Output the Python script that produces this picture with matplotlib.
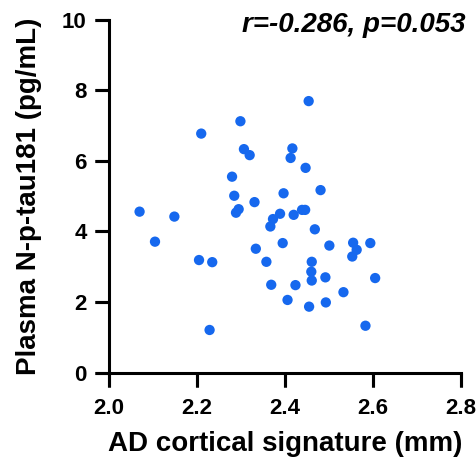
import numpy as np
import matplotlib.pyplot as plt

plt.rcParams['font.family'] = ['Liberation Sans', 'DejaVu Sans']

# AD cortical signature (mm)
thickness = [2.070, 2.149, 2.105, 2.205, 2.235, 2.229, 2.210, 2.299, 2.307, 2.320,
             2.280, 2.285, 2.295, 2.289, 2.331, 2.334, 2.358, 2.367, 2.373, 2.389,
             2.369, 2.395, 2.397, 2.406, 2.413, 2.417, 2.420, 2.424, 2.439, 2.446,
             2.447, 2.454, 2.455, 2.461, 2.460, 2.461, 2.468, 2.481, 2.492, 2.493,
             2.501, 2.533, 2.555, 2.563, 2.553, 2.594, 2.605, 2.583]
# Plasma N-p-tau181 (pg/mL)
ptau = [4.56, 4.42, 3.71, 3.19, 3.13, 1.21, 6.77, 7.12, 6.33, 6.16,
        5.55, 5.01, 4.63, 4.53, 4.83, 3.51, 3.14, 4.14, 4.35, 4.50,
        2.49, 3.67, 5.08, 2.06, 6.08, 6.35, 4.47, 2.48, 4.61, 4.61,
        5.80, 7.69, 1.87, 3.14, 2.86, 2.61, 4.06, 5.17, 2.70, 1.99,
        3.60, 2.28, 3.68, 3.48, 3.29, 3.67, 2.68, 1.33]

xticks = [2.0, 2.2, 2.4, 2.6, 2.8]
xticklabels = ["2.0", "2.2", "2.4", "2.6", "2.8"]
yticks = [0, 2, 4, 6, 8, 10]

W, H = 4.77, 4.69
box = [0.228, 0.2053, 0.7385, 0.7531]
fig = plt.figure(figsize=(W, H), dpi=100)
ax = fig.add_axes(box)

ax.scatter(thickness, ptau, s=55, color="#1668EE", edgecolors="none", zorder=3, clip_on=False)

ax.set_xlim(2.0, 2.8)
ax.set_ylim(0, 10)
ax.set_xticks(xticks, xticklabels)
ax.set_yticks(yticks)

for s in ["top", "right"]:
    ax.spines[s].set_visible(False)
for s in ["left", "bottom"]:
    ax.spines[s].set_linewidth(2.2)
    ax.spines[s].set_color("black")

ax.tick_params(direction="out", width=2.2, length=10, labelsize=16, color="black")
ax.tick_params(axis="x", pad=8)
ax.tick_params(axis="y", pad=6)
for lab in ax.get_xticklabels() + ax.get_yticklabels():
    lab.set_fontweight("bold")

# tick marks drawn as lines too (10 pt long, outward)
tick_len = 10 / 72
fx = tick_len / (box[3] * H)
fy = tick_len / (box[2] * W)
ax.vlines(xticks, -fx, 0, transform=ax.get_xaxis_transform(), color="black",
          linewidth=2.2, clip_on=False, capstyle="butt")
ax.hlines(yticks, -fy, 0, transform=ax.get_yaxis_transform(), color="black",
          linewidth=2.2, clip_on=False, capstyle="butt")

ax.set_xlabel("AD cortical signature (mm)", fontsize=20, fontweight="bold", labelpad=9)
ax.set_ylabel("Plasma N-p-tau181 (pg/mL)", fontsize=20, fontweight="bold", labelpad=14)

ax.text(1.012, 0.985, "r=-0.286, p=0.053", transform=ax.transAxes, ha="right", va="center",
        fontsize=20, fontweight="bold", fontstyle="italic")

plt.savefig("out.png", dpi=100)
